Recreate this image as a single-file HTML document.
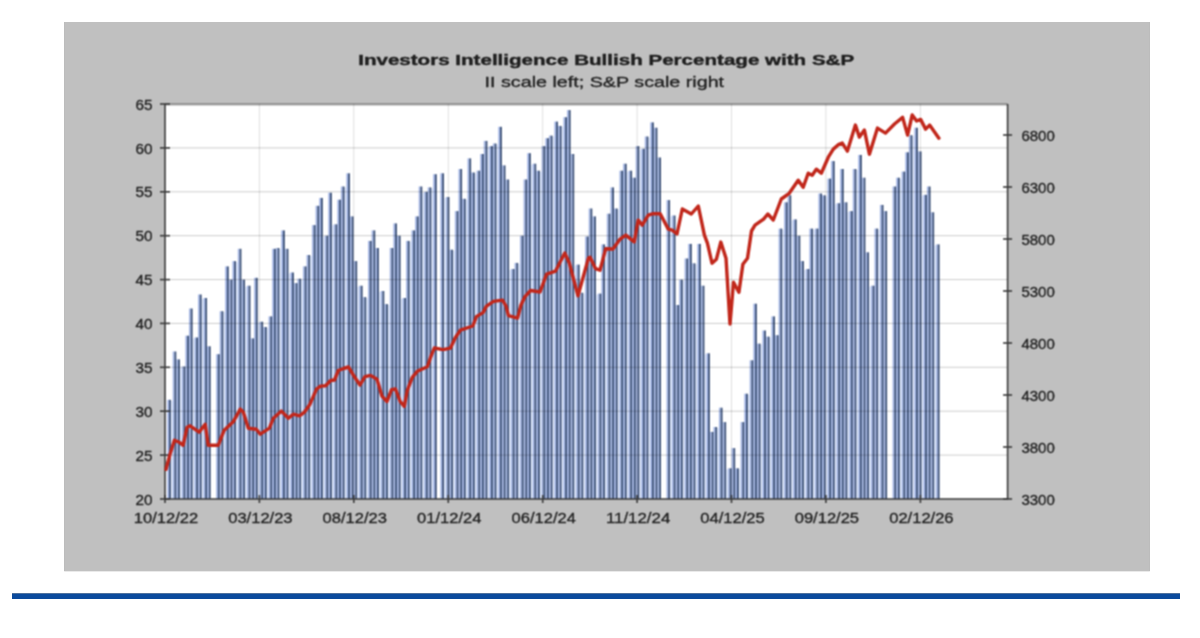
<!DOCTYPE html>
<html><head><meta charset="utf-8"><title>Investors Intelligence Bullish Percentage with S&amp;P</title>
<style>
html,body{margin:0;padding:0;background:#fff;}
body{width:1200px;height:638px;overflow:hidden;position:relative;font-family:"Liberation Sans",sans-serif;}
svg{position:absolute;left:0;top:0;display:block;}
text{font-family:"Liberation Sans",sans-serif;fill:#1e1e1e;stroke:#1e1e1e;stroke-width:0.3px;}
text.t{stroke-width:0.4px;}
</style></head><body>
<svg width="1200" height="638" viewBox="0 0 1200 638">
<defs><filter id="b" x="0" y="0" width="100%" height="100%" color-interpolation-filters="sRGB"><feConvolveMatrix order="3" kernelMatrix="1 2 1 2 4 2 1 2 1" divisor="16" edgeMode="duplicate" preserveAlpha="true"/></filter></defs>
<rect x="0" y="0" width="1200" height="638" fill="#ffffff"/>
<g filter="url(#b)">
<rect x="64.4" y="22.8" width="1085.2" height="548.4" fill="#c0c0c0"/>
<rect x="12" y="593.3" width="1168" height="5.6" fill="#0b4a9c"/>

<rect x="165.0" y="104.0" width="842.6" height="395.0" fill="#ffffff"/>
<g fill="#e4ecfc"><rect x="170.41" y="400.8" width="2.71" height="98.2"/><rect x="179.46" y="367.5" width="2.71" height="131.5"/><rect x="192.12" y="338.5" width="2.71" height="160.5"/><rect x="201.16" y="299.0" width="2.71" height="200.0"/><rect x="222.87" y="312.2" width="2.71" height="186.8"/><rect x="235.53" y="262.1" width="2.71" height="236.9"/><rect x="244.57" y="286.7" width="2.71" height="212.3"/><rect x="257.23" y="322.7" width="2.71" height="176.3"/><rect x="266.27" y="328.0" width="2.71" height="171.0"/><rect x="278.94" y="249.0" width="2.71" height="250.0"/><rect x="287.98" y="273.5" width="2.71" height="225.5"/><rect x="300.64" y="279.7" width="2.71" height="219.3"/><rect x="309.68" y="256.0" width="2.71" height="243.0"/><rect x="322.34" y="236.7" width="2.71" height="262.3"/><rect x="331.39" y="225.3" width="2.71" height="273.7"/><rect x="344.05" y="187.5" width="2.71" height="311.5"/><rect x="356.71" y="286.7" width="2.71" height="212.3"/><rect x="365.75" y="298.1" width="2.71" height="200.9"/><rect x="378.41" y="292.0" width="2.71" height="207.0"/><rect x="387.46" y="305.1" width="2.71" height="193.9"/><rect x="400.12" y="299.0" width="2.71" height="200.0"/><rect x="409.16" y="241.9" width="2.71" height="257.1"/><rect x="421.82" y="192.8" width="2.71" height="306.2"/><rect x="430.87" y="188.4" width="2.71" height="310.6"/><rect x="443.53" y="198.0" width="2.71" height="301.0"/><rect x="452.57" y="250.7" width="2.71" height="248.3"/><rect x="465.23" y="199.8" width="2.71" height="299.2"/><rect x="474.27" y="173.5" width="2.71" height="325.5"/><rect x="486.94" y="147.1" width="2.71" height="351.9"/><rect x="495.98" y="144.5" width="2.71" height="354.5"/><rect x="508.64" y="270.0" width="2.71" height="229.0"/><rect x="517.68" y="263.9" width="2.71" height="235.1"/><rect x="530.34" y="164.7" width="2.71" height="334.3"/><rect x="539.39" y="171.7" width="2.71" height="327.3"/><rect x="552.05" y="136.6" width="2.71" height="362.4"/><rect x="561.09" y="126.9" width="2.71" height="372.1"/><rect x="573.75" y="265.6" width="2.71" height="233.4"/><rect x="582.80" y="293.7" width="2.71" height="205.3"/><rect x="595.46" y="294.6" width="2.71" height="204.4"/><rect x="604.50" y="245.4" width="2.71" height="253.6"/><rect x="617.16" y="209.5" width="2.71" height="289.5"/><rect x="626.21" y="171.7" width="2.71" height="327.3"/><rect x="638.87" y="149.8" width="2.71" height="349.2"/><rect x="647.91" y="137.5" width="2.71" height="361.5"/><rect x="669.61" y="216.5" width="2.71" height="282.5"/><rect x="682.28" y="280.6" width="2.71" height="218.4"/><rect x="694.94" y="264.3" width="2.71" height="234.7"/><rect x="703.98" y="354.3" width="2.71" height="144.7"/><rect x="716.64" y="428.0" width="2.71" height="71.0"/><rect x="725.68" y="469.3" width="2.71" height="29.7"/><rect x="738.35" y="469.3" width="2.71" height="29.7"/><rect x="747.39" y="394.7" width="2.71" height="104.3"/><rect x="760.05" y="344.6" width="2.71" height="154.4"/><rect x="769.09" y="337.6" width="2.71" height="161.4"/><rect x="781.75" y="229.6" width="2.71" height="269.4"/><rect x="790.80" y="220.4" width="2.71" height="278.6"/><rect x="803.46" y="270.0" width="2.71" height="229.0"/><rect x="812.50" y="229.6" width="2.71" height="269.4"/><rect x="825.16" y="196.3" width="2.71" height="302.7"/><rect x="834.21" y="204.2" width="2.71" height="294.8"/><rect x="846.87" y="212.1" width="2.71" height="286.9"/><rect x="855.91" y="170.0" width="2.71" height="329.0"/><rect x="868.57" y="286.7" width="2.71" height="212.3"/><rect x="877.62" y="229.6" width="2.71" height="269.4"/><rect x="899.32" y="178.7" width="2.71" height="320.3"/><rect x="911.98" y="136.2" width="2.71" height="362.8"/><rect x="921.02" y="195.8" width="2.71" height="303.2"/><rect x="933.68" y="245.4" width="2.71" height="253.6"/></g>
<g fill="#a6b8e6"><rect x="167.25" y="399.8" width="1.81" height="99.2"/><rect x="172.67" y="351.5" width="1.81" height="147.5"/><rect x="176.29" y="359.4" width="1.81" height="139.6"/><rect x="181.72" y="366.5" width="1.81" height="132.5"/><rect x="185.33" y="335.7" width="1.81" height="163.3"/><rect x="188.95" y="308.5" width="1.81" height="190.5"/><rect x="194.38" y="337.5" width="1.81" height="161.5"/><rect x="197.99" y="294.5" width="1.81" height="204.5"/><rect x="203.42" y="298.0" width="1.81" height="201.0"/><rect x="207.04" y="346.3" width="1.81" height="152.7"/><rect x="216.08" y="354.2" width="1.81" height="144.8"/><rect x="219.70" y="311.2" width="1.81" height="187.8"/><rect x="225.12" y="266.4" width="1.81" height="232.6"/><rect x="228.74" y="279.6" width="1.81" height="219.4"/><rect x="232.36" y="261.1" width="1.81" height="237.9"/><rect x="237.79" y="248.8" width="1.81" height="250.2"/><rect x="241.40" y="279.6" width="1.81" height="219.4"/><rect x="246.83" y="285.7" width="1.81" height="213.3"/><rect x="250.45" y="338.4" width="1.81" height="160.6"/><rect x="254.06" y="277.8" width="1.81" height="221.2"/><rect x="259.49" y="321.7" width="1.81" height="177.3"/><rect x="263.11" y="327.0" width="1.81" height="172.0"/><rect x="268.53" y="316.4" width="1.81" height="182.6"/><rect x="272.15" y="248.8" width="1.81" height="250.2"/><rect x="275.77" y="248.0" width="1.81" height="251.0"/><rect x="281.19" y="230.4" width="1.81" height="268.6"/><rect x="284.81" y="248.8" width="1.81" height="250.2"/><rect x="290.24" y="272.5" width="1.81" height="226.5"/><rect x="293.85" y="283.1" width="1.81" height="215.9"/><rect x="297.47" y="278.7" width="1.81" height="220.3"/><rect x="302.90" y="266.4" width="1.81" height="232.6"/><rect x="306.52" y="255.0" width="1.81" height="244.0"/><rect x="311.94" y="225.1" width="1.81" height="273.9"/><rect x="315.56" y="205.8" width="1.81" height="293.2"/><rect x="319.18" y="197.9" width="1.81" height="301.1"/><rect x="324.60" y="235.7" width="1.81" height="263.3"/><rect x="328.22" y="192.7" width="1.81" height="306.3"/><rect x="333.65" y="224.3" width="1.81" height="274.7"/><rect x="337.26" y="199.7" width="1.81" height="299.3"/><rect x="340.88" y="186.5" width="1.81" height="312.5"/><rect x="346.31" y="173.3" width="1.81" height="325.7"/><rect x="349.92" y="216.4" width="1.81" height="282.6"/><rect x="353.54" y="261.1" width="1.81" height="237.9"/><rect x="358.97" y="285.7" width="1.81" height="213.3"/><rect x="362.59" y="297.1" width="1.81" height="201.9"/><rect x="368.01" y="240.9" width="1.81" height="258.1"/><rect x="371.63" y="230.4" width="1.81" height="268.6"/><rect x="375.25" y="248.0" width="1.81" height="251.0"/><rect x="380.67" y="291.0" width="1.81" height="208.0"/><rect x="384.29" y="304.1" width="1.81" height="194.9"/><rect x="389.72" y="248.0" width="1.81" height="251.0"/><rect x="393.33" y="223.4" width="1.81" height="275.6"/><rect x="396.95" y="235.7" width="1.81" height="263.3"/><rect x="402.38" y="298.0" width="1.81" height="201.0"/><rect x="405.99" y="240.9" width="1.81" height="258.1"/><rect x="411.42" y="230.4" width="1.81" height="268.6"/><rect x="415.04" y="216.4" width="1.81" height="282.6"/><rect x="418.66" y="186.5" width="1.81" height="312.5"/><rect x="424.08" y="191.8" width="1.81" height="307.2"/><rect x="427.70" y="187.4" width="1.81" height="311.6"/><rect x="433.12" y="174.2" width="1.81" height="324.8"/><rect x="440.36" y="173.3" width="1.81" height="325.7"/><rect x="445.79" y="197.0" width="1.81" height="302.0"/><rect x="449.40" y="249.7" width="1.81" height="249.3"/><rect x="454.83" y="211.1" width="1.81" height="287.9"/><rect x="458.45" y="169.0" width="1.81" height="330.0"/><rect x="462.06" y="198.8" width="1.81" height="300.2"/><rect x="467.49" y="158.4" width="1.81" height="340.6"/><rect x="471.11" y="172.5" width="1.81" height="326.5"/><rect x="476.53" y="170.7" width="1.81" height="328.3"/><rect x="480.15" y="154.0" width="1.81" height="345.0"/><rect x="483.77" y="140.9" width="1.81" height="358.1"/><rect x="489.19" y="146.1" width="1.81" height="352.9"/><rect x="492.81" y="143.5" width="1.81" height="355.5"/><rect x="498.24" y="126.8" width="1.81" height="372.2"/><rect x="501.86" y="165.4" width="1.81" height="333.6"/><rect x="505.47" y="179.5" width="1.81" height="319.5"/><rect x="510.90" y="269.0" width="1.81" height="230.0"/><rect x="514.52" y="262.9" width="1.81" height="236.1"/><rect x="519.94" y="235.7" width="1.81" height="263.3"/><rect x="523.56" y="179.5" width="1.81" height="319.5"/><rect x="527.18" y="153.2" width="1.81" height="345.8"/><rect x="532.60" y="163.7" width="1.81" height="335.3"/><rect x="536.22" y="170.7" width="1.81" height="328.3"/><rect x="541.65" y="146.1" width="1.81" height="352.9"/><rect x="545.26" y="138.2" width="1.81" height="360.8"/><rect x="548.88" y="135.6" width="1.81" height="363.4"/><rect x="554.31" y="121.6" width="1.81" height="377.4"/><rect x="557.93" y="125.9" width="1.81" height="373.1"/><rect x="563.35" y="117.2" width="1.81" height="381.8"/><rect x="566.97" y="110.1" width="1.81" height="388.9"/><rect x="570.59" y="154.0" width="1.81" height="345.0"/><rect x="576.01" y="264.6" width="1.81" height="234.4"/><rect x="579.63" y="292.7" width="1.81" height="206.3"/><rect x="585.06" y="236.5" width="1.81" height="262.5"/><rect x="588.67" y="208.5" width="1.81" height="290.5"/><rect x="592.29" y="216.4" width="1.81" height="282.6"/><rect x="597.72" y="293.6" width="1.81" height="205.4"/><rect x="601.33" y="244.4" width="1.81" height="254.6"/><rect x="606.76" y="213.7" width="1.81" height="285.3"/><rect x="610.38" y="187.4" width="1.81" height="311.6"/><rect x="613.99" y="208.5" width="1.81" height="290.5"/><rect x="619.42" y="170.7" width="1.81" height="328.3"/><rect x="623.04" y="163.7" width="1.81" height="335.3"/><rect x="628.46" y="170.7" width="1.81" height="328.3"/><rect x="632.08" y="177.7" width="1.81" height="321.3"/><rect x="635.70" y="146.1" width="1.81" height="352.9"/><rect x="641.13" y="148.8" width="1.81" height="350.2"/><rect x="644.74" y="136.5" width="1.81" height="362.5"/><rect x="650.17" y="122.4" width="1.81" height="376.6"/><rect x="653.79" y="127.7" width="1.81" height="371.3"/><rect x="657.40" y="157.5" width="1.81" height="341.5"/><rect x="666.45" y="200.1" width="1.81" height="298.9"/><rect x="671.87" y="215.5" width="1.81" height="283.5"/><rect x="675.49" y="305.0" width="1.81" height="194.0"/><rect x="679.11" y="279.6" width="1.81" height="219.4"/><rect x="684.53" y="258.5" width="1.81" height="240.5"/><rect x="688.15" y="243.9" width="1.81" height="255.1"/><rect x="691.77" y="263.3" width="1.81" height="235.7"/><rect x="697.19" y="243.9" width="1.81" height="255.1"/><rect x="700.81" y="285.7" width="1.81" height="213.3"/><rect x="706.24" y="353.3" width="1.81" height="145.7"/><rect x="709.86" y="431.9" width="1.81" height="67.1"/><rect x="713.47" y="427.0" width="1.81" height="72.0"/><rect x="718.90" y="407.7" width="1.81" height="91.3"/><rect x="722.52" y="422.1" width="1.81" height="76.9"/><rect x="727.94" y="468.3" width="1.81" height="30.7"/><rect x="731.56" y="448.1" width="1.81" height="50.9"/><rect x="735.18" y="468.3" width="1.81" height="30.7"/><rect x="740.60" y="422.1" width="1.81" height="76.9"/><rect x="744.22" y="393.7" width="1.81" height="105.3"/><rect x="749.65" y="360.3" width="1.81" height="138.7"/><rect x="753.26" y="303.7" width="1.81" height="195.3"/><rect x="756.88" y="343.6" width="1.81" height="155.4"/><rect x="762.31" y="330.5" width="1.81" height="168.5"/><rect x="765.93" y="336.6" width="1.81" height="162.4"/><rect x="771.35" y="316.4" width="1.81" height="182.6"/><rect x="774.97" y="335.2" width="1.81" height="163.8"/><rect x="778.59" y="228.6" width="1.81" height="270.4"/><rect x="784.01" y="202.3" width="1.81" height="296.7"/><rect x="787.63" y="195.3" width="1.81" height="303.7"/><rect x="793.06" y="219.4" width="1.81" height="279.6"/><rect x="796.67" y="235.7" width="1.81" height="263.3"/><rect x="800.29" y="261.1" width="1.81" height="237.9"/><rect x="805.72" y="269.0" width="1.81" height="230.0"/><rect x="809.33" y="228.6" width="1.81" height="270.4"/><rect x="814.76" y="228.6" width="1.81" height="270.4"/><rect x="818.38" y="193.5" width="1.81" height="305.5"/><rect x="822.00" y="195.3" width="1.81" height="303.7"/><rect x="827.42" y="178.6" width="1.81" height="320.4"/><rect x="831.04" y="161.1" width="1.81" height="337.9"/><rect x="836.46" y="203.2" width="1.81" height="295.8"/><rect x="840.08" y="169.0" width="1.81" height="330.0"/><rect x="843.70" y="202.3" width="1.81" height="296.7"/><rect x="849.13" y="211.1" width="1.81" height="287.9"/><rect x="852.74" y="169.0" width="1.81" height="330.0"/><rect x="858.17" y="154.9" width="1.81" height="344.1"/><rect x="861.79" y="177.7" width="1.81" height="321.3"/><rect x="865.40" y="252.3" width="1.81" height="246.7"/><rect x="870.83" y="285.7" width="1.81" height="213.3"/><rect x="874.45" y="228.6" width="1.81" height="270.4"/><rect x="879.87" y="204.9" width="1.81" height="294.1"/><rect x="883.49" y="211.1" width="1.81" height="287.9"/><rect x="892.53" y="186.5" width="1.81" height="312.5"/><rect x="896.15" y="177.7" width="1.81" height="321.3"/><rect x="901.58" y="171.6" width="1.81" height="327.4"/><rect x="905.20" y="152.3" width="1.81" height="346.7"/><rect x="908.81" y="135.2" width="1.81" height="363.8"/><rect x="914.24" y="127.7" width="1.81" height="371.3"/><rect x="917.86" y="151.4" width="1.81" height="347.6"/><rect x="923.28" y="194.8" width="1.81" height="304.2"/><rect x="926.90" y="186.5" width="1.81" height="312.5"/><rect x="930.52" y="212.3" width="1.81" height="286.7"/><rect x="935.94" y="244.4" width="1.81" height="254.6"/></g>
<g fill="#3a4f76"><rect x="169.05" y="399.8" width="1.81" height="99.2"/><rect x="174.48" y="351.5" width="1.81" height="147.5"/><rect x="178.10" y="359.4" width="1.81" height="139.6"/><rect x="183.52" y="366.5" width="1.81" height="132.5"/><rect x="187.14" y="335.7" width="1.81" height="163.3"/><rect x="190.76" y="308.5" width="1.81" height="190.5"/><rect x="196.19" y="337.5" width="1.81" height="161.5"/><rect x="199.80" y="294.5" width="1.81" height="204.5"/><rect x="205.23" y="298.0" width="1.81" height="201.0"/><rect x="208.85" y="346.3" width="1.81" height="152.7"/><rect x="217.89" y="354.2" width="1.81" height="144.8"/><rect x="221.51" y="311.2" width="1.81" height="187.8"/><rect x="226.93" y="266.4" width="1.81" height="232.6"/><rect x="230.55" y="279.6" width="1.81" height="219.4"/><rect x="234.17" y="261.1" width="1.81" height="237.9"/><rect x="239.59" y="248.8" width="1.81" height="250.2"/><rect x="243.21" y="279.6" width="1.81" height="219.4"/><rect x="248.64" y="285.7" width="1.81" height="213.3"/><rect x="252.25" y="338.4" width="1.81" height="160.6"/><rect x="255.87" y="277.8" width="1.81" height="221.2"/><rect x="261.30" y="321.7" width="1.81" height="177.3"/><rect x="264.92" y="327.0" width="1.81" height="172.0"/><rect x="270.34" y="316.4" width="1.81" height="182.6"/><rect x="273.96" y="248.8" width="1.81" height="250.2"/><rect x="277.58" y="248.0" width="1.81" height="251.0"/><rect x="283.00" y="230.4" width="1.81" height="268.6"/><rect x="286.62" y="248.8" width="1.81" height="250.2"/><rect x="292.05" y="272.5" width="1.81" height="226.5"/><rect x="295.66" y="283.1" width="1.81" height="215.9"/><rect x="299.28" y="278.7" width="1.81" height="220.3"/><rect x="304.71" y="266.4" width="1.81" height="232.6"/><rect x="308.32" y="255.0" width="1.81" height="244.0"/><rect x="313.75" y="225.1" width="1.81" height="273.9"/><rect x="317.37" y="205.8" width="1.81" height="293.2"/><rect x="320.99" y="197.9" width="1.81" height="301.1"/><rect x="326.41" y="235.7" width="1.81" height="263.3"/><rect x="330.03" y="192.7" width="1.81" height="306.3"/><rect x="335.46" y="224.3" width="1.81" height="274.7"/><rect x="339.07" y="199.7" width="1.81" height="299.3"/><rect x="342.69" y="186.5" width="1.81" height="312.5"/><rect x="348.12" y="173.3" width="1.81" height="325.7"/><rect x="351.73" y="216.4" width="1.81" height="282.6"/><rect x="355.35" y="261.1" width="1.81" height="237.9"/><rect x="360.78" y="285.7" width="1.81" height="213.3"/><rect x="364.39" y="297.1" width="1.81" height="201.9"/><rect x="369.82" y="240.9" width="1.81" height="258.1"/><rect x="373.44" y="230.4" width="1.81" height="268.6"/><rect x="377.06" y="248.0" width="1.81" height="251.0"/><rect x="382.48" y="291.0" width="1.81" height="208.0"/><rect x="386.10" y="304.1" width="1.81" height="194.9"/><rect x="391.52" y="248.0" width="1.81" height="251.0"/><rect x="395.14" y="223.4" width="1.81" height="275.6"/><rect x="398.76" y="235.7" width="1.81" height="263.3"/><rect x="404.19" y="298.0" width="1.81" height="201.0"/><rect x="407.80" y="240.9" width="1.81" height="258.1"/><rect x="413.23" y="230.4" width="1.81" height="268.6"/><rect x="416.85" y="216.4" width="1.81" height="282.6"/><rect x="420.46" y="186.5" width="1.81" height="312.5"/><rect x="425.89" y="191.8" width="1.81" height="307.2"/><rect x="429.51" y="187.4" width="1.81" height="311.6"/><rect x="434.93" y="174.2" width="1.81" height="324.8"/><rect x="442.17" y="173.3" width="1.81" height="325.7"/><rect x="447.59" y="197.0" width="1.81" height="302.0"/><rect x="451.21" y="249.7" width="1.81" height="249.3"/><rect x="456.64" y="211.1" width="1.81" height="287.9"/><rect x="460.26" y="169.0" width="1.81" height="330.0"/><rect x="463.87" y="198.8" width="1.81" height="300.2"/><rect x="469.30" y="158.4" width="1.81" height="340.6"/><rect x="472.92" y="172.5" width="1.81" height="326.5"/><rect x="478.34" y="170.7" width="1.81" height="328.3"/><rect x="481.96" y="154.0" width="1.81" height="345.0"/><rect x="485.58" y="140.9" width="1.81" height="358.1"/><rect x="491.00" y="146.1" width="1.81" height="352.9"/><rect x="494.62" y="143.5" width="1.81" height="355.5"/><rect x="500.05" y="126.8" width="1.81" height="372.2"/><rect x="503.66" y="165.4" width="1.81" height="333.6"/><rect x="507.28" y="179.5" width="1.81" height="319.5"/><rect x="512.71" y="269.0" width="1.81" height="230.0"/><rect x="516.33" y="262.9" width="1.81" height="236.1"/><rect x="521.75" y="235.7" width="1.81" height="263.3"/><rect x="525.37" y="179.5" width="1.81" height="319.5"/><rect x="528.99" y="153.2" width="1.81" height="345.8"/><rect x="534.41" y="163.7" width="1.81" height="335.3"/><rect x="538.03" y="170.7" width="1.81" height="328.3"/><rect x="543.46" y="146.1" width="1.81" height="352.9"/><rect x="547.07" y="138.2" width="1.81" height="360.8"/><rect x="550.69" y="135.6" width="1.81" height="363.4"/><rect x="556.12" y="121.6" width="1.81" height="377.4"/><rect x="559.73" y="125.9" width="1.81" height="373.1"/><rect x="565.16" y="117.2" width="1.81" height="381.8"/><rect x="568.78" y="110.1" width="1.81" height="388.9"/><rect x="572.39" y="154.0" width="1.81" height="345.0"/><rect x="577.82" y="264.6" width="1.81" height="234.4"/><rect x="581.44" y="292.7" width="1.81" height="206.3"/><rect x="586.86" y="236.5" width="1.81" height="262.5"/><rect x="590.48" y="208.5" width="1.81" height="290.5"/><rect x="594.10" y="216.4" width="1.81" height="282.6"/><rect x="599.53" y="293.6" width="1.81" height="205.4"/><rect x="603.14" y="244.4" width="1.81" height="254.6"/><rect x="608.57" y="213.7" width="1.81" height="285.3"/><rect x="612.19" y="187.4" width="1.81" height="311.6"/><rect x="615.80" y="208.5" width="1.81" height="290.5"/><rect x="621.23" y="170.7" width="1.81" height="328.3"/><rect x="624.85" y="163.7" width="1.81" height="335.3"/><rect x="630.27" y="170.7" width="1.81" height="328.3"/><rect x="633.89" y="177.7" width="1.81" height="321.3"/><rect x="637.51" y="146.1" width="1.81" height="352.9"/><rect x="642.93" y="148.8" width="1.81" height="350.2"/><rect x="646.55" y="136.5" width="1.81" height="362.5"/><rect x="651.98" y="122.4" width="1.81" height="376.6"/><rect x="655.59" y="127.7" width="1.81" height="371.3"/><rect x="659.21" y="157.5" width="1.81" height="341.5"/><rect x="668.26" y="200.1" width="1.81" height="298.9"/><rect x="673.68" y="215.5" width="1.81" height="283.5"/><rect x="677.30" y="305.0" width="1.81" height="194.0"/><rect x="680.92" y="279.6" width="1.81" height="219.4"/><rect x="686.34" y="258.5" width="1.81" height="240.5"/><rect x="689.96" y="243.9" width="1.81" height="255.1"/><rect x="693.58" y="263.3" width="1.81" height="235.7"/><rect x="699.00" y="243.9" width="1.81" height="255.1"/><rect x="702.62" y="285.7" width="1.81" height="213.3"/><rect x="708.05" y="353.3" width="1.81" height="145.7"/><rect x="711.66" y="431.9" width="1.81" height="67.1"/><rect x="715.28" y="427.0" width="1.81" height="72.0"/><rect x="720.71" y="407.7" width="1.81" height="91.3"/><rect x="724.33" y="422.1" width="1.81" height="76.9"/><rect x="729.75" y="468.3" width="1.81" height="30.7"/><rect x="733.37" y="448.1" width="1.81" height="50.9"/><rect x="736.99" y="468.3" width="1.81" height="30.7"/><rect x="742.41" y="422.1" width="1.81" height="76.9"/><rect x="746.03" y="393.7" width="1.81" height="105.3"/><rect x="751.46" y="360.3" width="1.81" height="138.7"/><rect x="755.07" y="303.7" width="1.81" height="195.3"/><rect x="758.69" y="343.6" width="1.81" height="155.4"/><rect x="764.12" y="330.5" width="1.81" height="168.5"/><rect x="767.73" y="336.6" width="1.81" height="162.4"/><rect x="773.16" y="316.4" width="1.81" height="182.6"/><rect x="776.78" y="335.2" width="1.81" height="163.8"/><rect x="780.40" y="228.6" width="1.81" height="270.4"/><rect x="785.82" y="202.3" width="1.81" height="296.7"/><rect x="789.44" y="195.3" width="1.81" height="303.7"/><rect x="794.86" y="219.4" width="1.81" height="279.6"/><rect x="798.48" y="235.7" width="1.81" height="263.3"/><rect x="802.10" y="261.1" width="1.81" height="237.9"/><rect x="807.53" y="269.0" width="1.81" height="230.0"/><rect x="811.14" y="228.6" width="1.81" height="270.4"/><rect x="816.57" y="228.6" width="1.81" height="270.4"/><rect x="820.19" y="193.5" width="1.81" height="305.5"/><rect x="823.80" y="195.3" width="1.81" height="303.7"/><rect x="829.23" y="178.6" width="1.81" height="320.4"/><rect x="832.85" y="161.1" width="1.81" height="337.9"/><rect x="838.27" y="203.2" width="1.81" height="295.8"/><rect x="841.89" y="169.0" width="1.81" height="330.0"/><rect x="845.51" y="202.3" width="1.81" height="296.7"/><rect x="850.93" y="211.1" width="1.81" height="287.9"/><rect x="854.55" y="169.0" width="1.81" height="330.0"/><rect x="859.98" y="154.9" width="1.81" height="344.1"/><rect x="863.60" y="177.7" width="1.81" height="321.3"/><rect x="867.21" y="252.3" width="1.81" height="246.7"/><rect x="872.64" y="285.7" width="1.81" height="213.3"/><rect x="876.26" y="228.6" width="1.81" height="270.4"/><rect x="881.68" y="204.9" width="1.81" height="294.1"/><rect x="885.30" y="211.1" width="1.81" height="287.9"/><rect x="894.34" y="186.5" width="1.81" height="312.5"/><rect x="897.96" y="177.7" width="1.81" height="321.3"/><rect x="903.39" y="171.6" width="1.81" height="327.4"/><rect x="907.00" y="152.3" width="1.81" height="346.7"/><rect x="910.62" y="135.2" width="1.81" height="363.8"/><rect x="916.05" y="127.7" width="1.81" height="371.3"/><rect x="919.67" y="151.4" width="1.81" height="347.6"/><rect x="925.09" y="194.8" width="1.81" height="304.2"/><rect x="928.71" y="186.5" width="1.81" height="312.5"/><rect x="932.33" y="212.3" width="1.81" height="286.7"/><rect x="937.75" y="244.4" width="1.81" height="254.6"/></g>
<g stroke="#000" stroke-opacity="0.2" stroke-width="1.0">
<line x1="165.0" y1="104.6" x2="1007.6" y2="104.6" stroke-opacity="0.32" stroke-width="2"/>
<line x1="165.0" y1="455.1" x2="1007.6" y2="455.1"/>
<line x1="165.0" y1="411.2" x2="1007.6" y2="411.2"/>
<line x1="165.0" y1="367.3" x2="1007.6" y2="367.3"/>
<line x1="165.0" y1="323.4" x2="1007.6" y2="323.4"/>
<line x1="165.0" y1="279.6" x2="1007.6" y2="279.6"/>
<line x1="165.0" y1="235.7" x2="1007.6" y2="235.7"/>
<line x1="165.0" y1="191.8" x2="1007.6" y2="191.8"/>
<line x1="165.0" y1="147.9" x2="1007.6" y2="147.9"/>
<line x1="165.0" y1="104.0" x2="1007.6" y2="104.0"/>
<line x1="259.4" y1="104.0" x2="259.4" y2="499.0" stroke-opacity="0.13"/>
<line x1="353.8" y1="104.0" x2="353.8" y2="499.0" stroke-opacity="0.13"/>
<line x1="448.3" y1="104.0" x2="448.3" y2="499.0" stroke-opacity="0.13"/>
<line x1="542.7" y1="104.0" x2="542.7" y2="499.0" stroke-opacity="0.13"/>
<line x1="637.1" y1="104.0" x2="637.1" y2="499.0" stroke-opacity="0.13"/>
<line x1="731.5" y1="104.0" x2="731.5" y2="499.0" stroke-opacity="0.13"/>
<line x1="825.9" y1="104.0" x2="825.9" y2="499.0" stroke-opacity="0.13"/>
<line x1="920.4" y1="104.0" x2="920.4" y2="499.0" stroke-opacity="0.13"/>
</g>
<g stroke="#3a3a3a" stroke-width="1.6" fill="none">
<line x1="165.0" y1="104.0" x2="165.0" y2="499.8"/>
<line x1="1007.6" y1="104.0" x2="1007.6" y2="499.8"/>
<line x1="165.0" y1="499.0" x2="1007.6" y2="499.0"/>
<line x1="160.0" y1="499.0" x2="170.0" y2="499.0"/>
<line x1="160.0" y1="455.1" x2="170.0" y2="455.1"/>
<line x1="160.0" y1="411.2" x2="170.0" y2="411.2"/>
<line x1="160.0" y1="367.3" x2="170.0" y2="367.3"/>
<line x1="160.0" y1="323.4" x2="170.0" y2="323.4"/>
<line x1="160.0" y1="279.6" x2="170.0" y2="279.6"/>
<line x1="160.0" y1="235.7" x2="170.0" y2="235.7"/>
<line x1="160.0" y1="191.8" x2="170.0" y2="191.8"/>
<line x1="160.0" y1="147.9" x2="170.0" y2="147.9"/>
<line x1="160.0" y1="104.0" x2="170.0" y2="104.0"/>
<line x1="1003.1" y1="499.0" x2="1012.1" y2="499.0"/>
<line x1="1003.1" y1="447.0" x2="1012.1" y2="447.0"/>
<line x1="1003.1" y1="395.0" x2="1012.1" y2="395.0"/>
<line x1="1003.1" y1="343.0" x2="1012.1" y2="343.0"/>
<line x1="1003.1" y1="291.0" x2="1012.1" y2="291.0"/>
<line x1="1003.1" y1="239.0" x2="1012.1" y2="239.0"/>
<line x1="1003.1" y1="187.0" x2="1012.1" y2="187.0"/>
<line x1="1003.1" y1="135.0" x2="1012.1" y2="135.0"/>
<line x1="165.0" y1="495.0" x2="165.0" y2="503.0"/>
<line x1="259.4" y1="495.0" x2="259.4" y2="503.0"/>
<line x1="353.8" y1="495.0" x2="353.8" y2="503.0"/>
<line x1="448.3" y1="495.0" x2="448.3" y2="503.0"/>
<line x1="542.7" y1="495.0" x2="542.7" y2="503.0"/>
<line x1="637.1" y1="495.0" x2="637.1" y2="503.0"/>
<line x1="731.5" y1="495.0" x2="731.5" y2="503.0"/>
<line x1="825.9" y1="495.0" x2="825.9" y2="503.0"/>
<line x1="920.4" y1="495.0" x2="920.4" y2="503.0"/>
</g>
<polyline points="166.0,469.3 170.0,454.3 174.4,440.2 179.1,442.2 183.1,445.3 187.1,427.2 190.1,425.8 199.1,432.2 205.2,424.2 208.2,445.3 218.2,445.3 224.2,430.2 233.2,421.8 240.3,409.1 243.3,412.1 248.3,428.2 256.3,429.2 260.3,434.2 269.4,428.2 273.4,418.2 281.4,411.1 288.4,418.2 293.5,414.2 299.5,415.8 304.5,412.1 309.5,405.1 316.5,389.1 320.5,386.1 325.6,385.7 330.6,380.5 334.5,380.0 338.3,370.5 343.6,368.5 348.5,367.0 354.1,376.3 360.0,385.0 365.0,376.6 370.5,375.4 377.0,379.2 382.0,396.2 387.0,401.5 391.5,389.7 395.5,389.0 400.2,401.5 404.3,406.4 407.3,390.3 412.3,377.3 417.3,371.3 427.3,366.8 430.3,358.2 434.3,348.0 443.0,349.6 450.4,348.2 455.4,337.5 460.4,330.1 472.8,326.0 476.4,316.6 483.0,312.6 486.5,306.1 493.5,301.4 502.5,300.1 506.0,306.0 508.5,315.6 517.5,318.1 521.0,305.0 525.0,296.6 530.6,290.5 540.0,292.0 546.6,274.1 555.6,271.1 560.0,262.2 564.8,253.1 569.3,263.0 578.0,295.8 588.4,258.1 590.1,257.2 595.5,268.6 600.0,270.2 605.7,248.7 613.0,249.0 620.1,239.1 625.8,235.1 634.2,241.9 638.2,220.1 642.2,225.1 648.3,215.1 653.2,213.6 660.2,213.8 668.3,229.1 672.2,230.1 677.0,234.0 682.3,209.0 691.3,214.0 698.3,206.0 704.4,235.1 707.4,243.1 712.0,263.2 716.4,259.2 720.8,242.1 726.0,258.2 730.0,324.0 733.5,282.3 738.9,292.3 742.9,264.2 747.5,258.2 751.5,231.0 755.0,225.2 763.6,219.1 767.8,214.0 773.3,220.0 781.3,199.0 789.2,193.3 798.2,180.2 803.2,187.3 808.2,173.2 812.2,175.2 816.3,169.2 821.3,173.2 828.3,157.2 833.3,149.1 838.3,144.7 842.3,143.1 847.4,151.1 855.4,125.1 859.4,137.1 864.4,130.1 869.4,154.2 877.5,128.1 885.5,133.1 894.5,124.0 902.6,117.4 907.6,135.1 912.2,115.0 916.6,121.0 920.6,119.4 925.6,129.1 929.6,125.1 934.7,132.2 938.9,138.2" fill="none" stroke="#c1271b" stroke-width="3.4" stroke-linejoin="round" stroke-linecap="round"/>
<text x="358.2" y="65.2" class="t" font-size="14.9" font-weight="bold" textLength="496" lengthAdjust="spacingAndGlyphs">Investors Intelligence Bullish Percentage with S&amp;P</text>
<text x="484.6" y="86.9" font-size="14.6" textLength="239.5" lengthAdjust="spacingAndGlyphs">II scale left; S&amp;P scale right</text>
<text x="135.6" y="504.6" font-size="14.4" textLength="17" lengthAdjust="spacingAndGlyphs">20</text>
<text x="135.6" y="460.7" font-size="14.4" textLength="17" lengthAdjust="spacingAndGlyphs">25</text>
<text x="135.6" y="416.8" font-size="14.4" textLength="17" lengthAdjust="spacingAndGlyphs">30</text>
<text x="135.6" y="372.9" font-size="14.4" textLength="17" lengthAdjust="spacingAndGlyphs">35</text>
<text x="135.6" y="329.0" font-size="14.4" textLength="17" lengthAdjust="spacingAndGlyphs">40</text>
<text x="135.6" y="285.2" font-size="14.4" textLength="17" lengthAdjust="spacingAndGlyphs">45</text>
<text x="135.6" y="241.3" font-size="14.4" textLength="17" lengthAdjust="spacingAndGlyphs">50</text>
<text x="135.6" y="197.4" font-size="14.4" textLength="17" lengthAdjust="spacingAndGlyphs">55</text>
<text x="135.6" y="153.5" font-size="14.4" textLength="17" lengthAdjust="spacingAndGlyphs">60</text>
<text x="135.6" y="109.6" font-size="14.4" textLength="17" lengthAdjust="spacingAndGlyphs">65</text>
<text x="1021.4" y="504.6" font-size="14.4" textLength="33.4" lengthAdjust="spacingAndGlyphs">3300</text>
<text x="1021.4" y="452.6" font-size="14.4" textLength="33.4" lengthAdjust="spacingAndGlyphs">3800</text>
<text x="1021.4" y="400.6" font-size="14.4" textLength="33.4" lengthAdjust="spacingAndGlyphs">4300</text>
<text x="1021.4" y="348.6" font-size="14.4" textLength="33.4" lengthAdjust="spacingAndGlyphs">4800</text>
<text x="1021.4" y="296.6" font-size="14.4" textLength="33.4" lengthAdjust="spacingAndGlyphs">5300</text>
<text x="1021.4" y="244.6" font-size="14.4" textLength="33.4" lengthAdjust="spacingAndGlyphs">5800</text>
<text x="1021.4" y="192.6" font-size="14.4" textLength="33.4" lengthAdjust="spacingAndGlyphs">6300</text>
<text x="1021.4" y="140.6" font-size="14.4" textLength="33.4" lengthAdjust="spacingAndGlyphs">6800</text>
<text x="133.8" y="522.9" font-size="14.4" textLength="64.4" lengthAdjust="spacingAndGlyphs">10/12/22</text>
<text x="228.2" y="522.9" font-size="14.4" textLength="64.4" lengthAdjust="spacingAndGlyphs">03/12/23</text>
<text x="322.6" y="522.9" font-size="14.4" textLength="64.4" lengthAdjust="spacingAndGlyphs">08/12/23</text>
<text x="417.1" y="522.9" font-size="14.4" textLength="64.4" lengthAdjust="spacingAndGlyphs">01/12/24</text>
<text x="511.5" y="522.9" font-size="14.4" textLength="64.4" lengthAdjust="spacingAndGlyphs">06/12/24</text>
<text x="605.9" y="522.9" font-size="14.4" textLength="64.4" lengthAdjust="spacingAndGlyphs">11/12/24</text>
<text x="700.3" y="522.9" font-size="14.4" textLength="64.4" lengthAdjust="spacingAndGlyphs">04/12/25</text>
<text x="794.7" y="522.9" font-size="14.4" textLength="64.4" lengthAdjust="spacingAndGlyphs">09/12/25</text>
<text x="889.2" y="522.9" font-size="14.4" textLength="64.4" lengthAdjust="spacingAndGlyphs">02/12/26</text>
</g></svg></body></html>
